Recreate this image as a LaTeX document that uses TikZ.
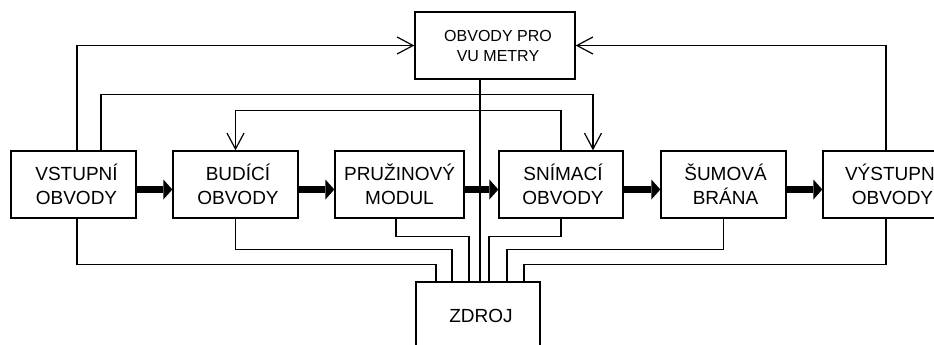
\documentclass[tikz,border=0pt]{standalone}
\usepackage{fontspec}
\setmainfont{Liberation Sans}
\usetikzlibrary{arrows.meta,calc}
\newcommand{\rsh}[1]{\hspace*{#1}}
\begin{document}
\begin{tikzpicture}[x=1pt,y=-1pt,
  box/.style={draw,line width=1.3pt,minimum width=125pt,minimum height=67pt,align=center,
    font=\fontsize{19}{24}\selectfont,inner sep=0pt},
  wire/.style={line width=1.2pt},
  openarrow/.style={wire,-{Straight Barb[length=16pt,width=17pt]}},
  bigarrow/.style={line width=7pt,-{Triangle[length=9pt,width=20pt,line width=0pt]}}]
\useasboundingbox (0,0) rectangle (934,345);
% nodes
\node[box,minimum width=160pt,font=\fontsize{16}{20}\selectfont] (vu) at (495,45.5) {\rsh{6pt}OBVODY PRO\\\rsh{6pt}VU METRY};
\node[box] (vst) at (73.5,184.5) {\rsh{6pt}VSTUPNÍ\\\rsh{6pt}OBVODY};
\node[box] (bud) at (235.5,184.5) {\rsh{5pt}BUDÍCÍ\\\rsh{5pt}OBVODY};
\node[box,minimum width=129pt] (pru) at (399.5,184.5) {PRUŽINOVÝ\\MODUL};
\node[box,minimum width=124pt] (sni) at (561,184.5) {\rsh{4pt}SNÍMACÍ\\\rsh{4pt}OBVODY};
\node[box] (sum) at (723.5,184.5) {\rsh{4pt}ŠUMOVÁ\\\rsh{4pt}BRÁNA};
\node[box] (vys) at (885.5,184.5) {\rsh{14pt}VÝSTUPNÍ\\\rsh{14pt}OBVODY};
\node[box,minimum width=124pt] (zdr) at (478,315.5) {\rsh{6pt}ZDROJ};
% thick signal arrows
\draw[bigarrow] ([yshift=-5pt]vst.east) -- ([yshift=-5pt]bud.west);
\draw[bigarrow] ([yshift=-5pt]bud.east) -- ([yshift=-5pt]pru.west);
\draw[bigarrow] ([yshift=-5pt]pru.east) -- ([yshift=-5pt]sni.west);
\draw[bigarrow] ([yshift=-5pt]sni.east) -- ([yshift=-5pt]sum.west);
\draw[bigarrow] ([yshift=-5pt]sum.east) -- ([yshift=-5pt]vys.west);
% top wires
\draw[openarrow] ([xshift=3.5pt]vst.north) |- (vu.west);
\draw[openarrow] ([xshift=0.5pt]vys.north) |- (vu.east);
\draw[openarrow] ([xshift=27.5pt]vst.north) |- ([xshift=32pt,yshift=56pt]sni.north) -- ([xshift=32pt]sni.north);
\draw[openarrow] (sni.north) |- ([yshift=40pt]bud.north) -- (bud.north);
\draw[wire] ([xshift=-15pt]vu.south) -- ([xshift=2pt]zdr.north);
% power wires
\draw[wire] ([xshift=3.5pt]vst.south) |- ([xshift=-42pt,yshift=17pt]zdr.north) -- ([xshift=-42pt]zdr.north);
\draw[wire] (bud.south) |- ([xshift=-26pt,yshift=32pt]zdr.north) -- ([xshift=-26pt]zdr.north);
\draw[wire] ([xshift=-3.5pt]pru.south) |- ([xshift=-9pt,yshift=45pt]zdr.north) -- ([xshift=-9pt]zdr.north);
\draw[wire] (sni.south) |- ([xshift=11pt,yshift=45pt]zdr.north) -- ([xshift=11pt]zdr.north);
\draw[wire] (sum.south) |- ([xshift=29pt,yshift=32pt]zdr.north) -- ([xshift=29pt]zdr.north);
\draw[wire] ([xshift=0.5pt]vys.south) |- ([xshift=46pt,yshift=17pt]zdr.north) -- ([xshift=46pt]zdr.north);
\end{tikzpicture}
\end{document}
